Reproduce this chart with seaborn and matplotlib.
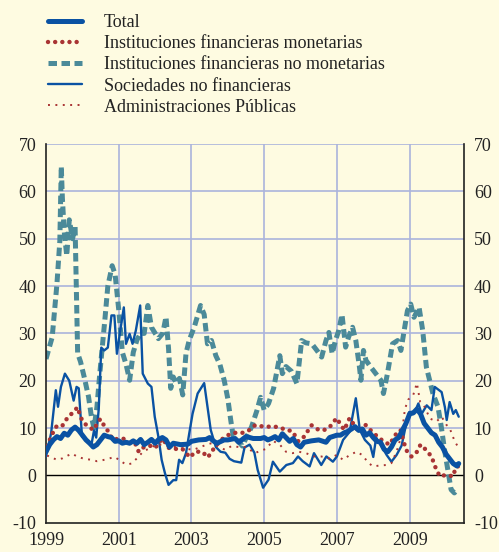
import numpy as np
import pandas as pd
import matplotlib
matplotlib.use("Agg")
import matplotlib.pyplot as plt
import seaborn as sns

# series (x in decimal years, y in %)
total_x = [1999.0, 1999.1, 1999.2, 1999.3, 1999.4, 1999.5, 1999.6, 1999.7, 1999.8, 1999.9,
           2000.0, 2000.1, 2000.2, 2000.3, 2000.4, 2000.5, 2000.6, 2000.7, 2000.8, 2000.9,
           2001.0, 2001.1, 2001.2, 2001.3, 2001.4, 2001.5, 2001.6, 2001.7, 2001.8, 2001.9,
           2002.0, 2002.1, 2002.2, 2002.3, 2002.4, 2002.5, 2002.7, 2002.9, 2003.0, 2003.2,
           2003.4, 2003.5, 2003.6, 2003.7, 2003.9, 2004.0, 2004.2, 2004.3, 2004.5, 2004.7,
           2004.9, 2005.0, 2005.1, 2005.2, 2005.3, 2005.4, 2005.5, 2005.6, 2005.7, 2005.8,
           2005.9, 2006.0, 2006.1, 2006.3, 2006.5, 2006.7, 2006.8, 2007.0, 2007.1, 2007.2,
           2007.3, 2007.4, 2007.5, 2007.6, 2007.7, 2007.8, 2007.9, 2008.0, 2008.1, 2008.2,
           2008.3, 2008.4, 2008.5, 2008.6, 2008.7, 2008.8, 2008.9, 2009.0, 2009.1, 2009.2,
           2009.3, 2009.4, 2009.5, 2009.6, 2009.7, 2009.8, 2009.9, 2010.0, 2010.1, 2010.2,
           2010.3, 2010.35]
total_y = [5.0, 6.5, 7.5, 8.2, 7.8, 8.9, 8.5, 9.6, 10.2, 9.5,
           8.5, 7.5, 6.8, 6.0, 6.5, 7.5, 8.5, 8.2, 8.0, 7.2,
           7.3, 6.8, 7.0, 6.8, 7.3, 6.8, 7.6, 6.5, 7.0, 7.6,
           6.8, 7.6, 8.0, 7.5, 6.0, 6.8, 6.5, 6.6, 7.2, 7.5,
           7.6, 8.0, 7.3, 6.8, 7.5, 7.5, 7.8, 7.0, 8.2, 7.8,
           7.8, 8.0, 7.5, 7.8, 8.2, 7.5, 8.8, 8.0, 7.2, 7.8,
           6.5, 6.0, 7.0, 7.3, 7.5, 7.0, 8.0, 8.5, 8.5, 9.0,
           9.3, 9.8, 10.3, 9.5, 9.8, 8.5, 9.0, 8.0, 7.2, 7.0,
           5.5, 5.0, 6.0, 7.5, 8.0, 9.5, 11.0, 13.0, 13.2, 14.0,
           13.0, 11.0, 10.0, 9.0, 8.5, 7.0, 6.0, 4.5, 3.5, 2.5,
           2.0, 2.5]

ifm_x = [1999.03, 1999.2, 1999.3, 1999.45, 1999.6, 1999.7, 1999.87, 1999.95, 2000.05, 2000.3,
         2000.49, 2000.6, 2000.72, 2000.83, 2001.12, 2001.3, 2001.45, 2001.55, 2001.68, 2001.85,
         2002.0, 2002.2, 2002.38, 2002.55, 2002.75, 2002.96, 2003.1, 2003.3, 2003.45, 2003.6,
         2003.7, 2003.85, 2004.0, 2004.2, 2004.4, 2004.6, 2004.75, 2004.9, 2005.1, 2005.3,
         2005.45, 2005.64, 2005.78, 2005.94, 2006.1, 2006.3, 2006.5, 2006.65, 2006.8, 2006.99,
         2007.1, 2007.2, 2007.35, 2007.6, 2007.77, 2007.92, 2008.1, 2008.28, 2008.45, 2008.6,
         2008.75, 2008.9, 2009.05, 2009.18, 2009.3, 2009.45, 2009.6, 2009.72, 2009.83, 2010.0,
         2010.2, 2010.3, 2010.37]
ifm_y = [6.2, 9.2, 10.5, 10.5, 12.3, 13.0, 14.4, 12.3, 11.0, 9.6,
         11.9, 10.5, 9.2, 7.6, 7.8, 6.8, 6.8, 5.0, 5.9, 6.3,
         5.8, 7.8, 5.8, 5.6, 5.6, 3.8, 5.0, 5.0, 3.8, 5.5,
         6.5, 7.7, 8.5, 9.0, 9.0, 9.6, 10.6, 10.4, 10.3, 10.3,
         10.0, 9.6, 9.3, 7.2, 8.2, 10.6, 9.6, 9.6, 10.2, 12.1,
         10.8, 9.6, 12.1, 9.2, 10.8, 9.6, 8.3, 7.2, 6.5, 8.5,
         9.6, 5.4, 4.0, 4.7, 6.5, 5.4, 4.0, 1.5, -0.2, 0.1,
         -0.2, 2.8, 0.6]

ifnm_x = [1999.0, 1999.17, 1999.3, 1999.38, 1999.42, 1999.45, 1999.5, 1999.57, 1999.64, 1999.73,
          1999.8, 1999.87, 1999.95, 2000.05, 2000.17, 2000.25, 2000.32, 2000.4, 2000.48, 2000.55,
          2000.62, 2000.7, 2000.82, 2000.9, 2001.0, 2001.1, 2001.2, 2001.3, 2001.4, 2001.5,
          2001.6, 2001.7, 2001.8, 2001.9, 2002.09, 2002.21, 2002.3, 2002.37, 2002.43, 2002.5,
          2002.58, 2002.67, 2002.76, 2002.85, 2002.94, 2003.08, 2003.25, 2003.35, 2003.44, 2003.55,
          2003.67, 2003.78, 2003.9, 2004.0, 2004.08, 2004.15, 2004.25, 2004.4, 2004.52, 2004.65,
          2004.8, 2004.9, 2005.0, 2005.12, 2005.26, 2005.43, 2005.5, 2005.6, 2005.75, 2005.9,
          2006.03, 2006.15, 2006.31, 2006.45, 2006.58, 2006.7, 2006.78, 2006.87, 2006.96, 2007.05,
          2007.14, 2007.24, 2007.32, 2007.43, 2007.52, 2007.62, 2007.66, 2007.73, 2007.8, 2007.93,
          2008.07, 2008.21, 2008.28, 2008.39, 2008.53, 2008.67, 2008.76, 2008.85, 2008.94, 2009.03,
          2009.12, 2009.26, 2009.36, 2009.46, 2009.55, 2009.64, 2009.78, 2009.87, 2009.96, 2010.05,
          2010.14, 2010.23, 2010.3]
ifnm_y = [24.6, 29.2, 40.4, 49.5, 65.3, 58.6, 51.6, 46.4, 54.0, 50.0,
          52.5, 25.8, 24.0, 20.8, 16.6, 12.3, 10.0, 14.4, 21.6, 27.3,
          33.0, 40.0, 44.3, 42.5, 35.0, 26.0, 23.5, 20.1, 26.0, 28.6,
          30.0, 30.0, 35.9, 31.3, 28.9, 30.0, 33.5, 26.8, 18.4, 20.8,
          19.5, 20.5, 17.0, 25.8, 28.6, 31.4, 35.9, 34.0, 27.8, 28.5,
          25.3, 23.5, 20.1, 16.2, 11.7, 8.2, 7.6, 6.2, 8.2, 10.2,
          13.7, 16.5, 13.8, 15.2, 18.4, 25.3, 21.5, 23.0, 22.0, 19.4,
          28.5, 28.0, 27.8, 26.4, 25.0, 28.5, 30.2, 25.7, 28.5, 30.6,
          34.0, 27.1, 29.2, 31.3, 28.5, 22.9, 20.1, 26.4, 24.3, 22.9,
          21.5, 20.1, 17.3, 21.5, 27.8, 28.5, 26.4, 30.6, 34.8, 36.2,
          33.4, 35.5, 30.6, 22.9, 20.1, 17.3, 14.5, 10.3, 5.4, 1.2,
          -3.0, -3.7, -3.0]

snf_x = [1999.0, 1999.14, 1999.27, 1999.33, 1999.41, 1999.52, 1999.64, 1999.76, 1999.84, 1999.9,
         1999.99, 2000.05, 2000.15, 2000.25, 2000.32, 2000.38, 2000.45, 2000.52, 2000.6, 2000.7,
         2000.8, 2000.88, 2000.95, 2001.03, 2001.14, 2001.2, 2001.3, 2001.38, 2001.47, 2001.59,
         2001.66, 2001.8, 2001.9, 2001.99, 2002.09, 2002.18, 2002.27, 2002.37, 2002.5, 2002.58,
         2002.66, 2002.75, 2002.85, 2002.94, 2003.03, 2003.17, 2003.35, 2003.45, 2003.53, 2003.67,
         2003.8, 2003.93, 2004.05, 2004.17, 2004.37, 2004.46, 2004.6, 2004.73, 2004.82, 2004.97,
         2005.12, 2005.24, 2005.43, 2005.61, 2005.79, 2005.93, 2006.06, 2006.25, 2006.37, 2006.57,
         2006.71, 2006.89, 2007.0, 2007.17, 2007.35, 2007.52, 2007.63, 2007.77, 2007.92, 2008.0,
         2008.08, 2008.24, 2008.37, 2008.5, 2008.64, 2008.78, 2008.87, 2008.99, 2009.14, 2009.24,
         2009.33, 2009.47, 2009.6, 2009.69, 2009.88, 2009.97, 2010.02, 2010.1, 2010.2, 2010.27,
         2010.35]
snf_y = [4.0, 8.9, 18.0, 14.5, 18.7, 21.5, 20.0, 15.8, 18.7, 18.4,
         8.2, 8.0, 7.0, 6.5, 9.5, 8.0, 14.0, 27.0, 26.4, 27.0,
         33.8, 33.8, 25.7, 30.0, 35.5, 27.8, 29.9, 27.8, 30.6, 35.9,
         21.5, 19.4, 18.7, 12.4, 8.2, 3.3, 0.5, -2.0, -1.0, -1.0,
         3.3, 2.6, 4.7, 8.9, 13.0, 17.3, 19.5, 14.0, 9.6, 6.0,
         5.0, 4.8, 3.5, 3.0, 2.7, 5.9, 6.5, 4.8, 1.2, -2.6,
         -0.9, 2.9, 0.8, 2.2, 2.6, 4.0, 3.0, 1.9, 4.7, 2.2,
         4.0, 2.9, 4.0, 7.5, 9.2, 16.3, 9.6, 7.5, 6.3, 3.9,
         8.0, 6.0, 4.3, 2.9, 4.3, 6.3, 9.6, 13.4, 13.4, 15.2,
         13.0, 14.8, 13.8, 18.7, 17.6, 14.4, 11.7, 15.5, 13.0, 13.8,
         12.4]

ap_x = [1999.03, 1999.3, 1999.45, 1999.6, 1999.72, 1999.85, 2000.05, 2000.25, 2000.4, 2000.55,
        2000.7, 2000.89, 2001.06, 2001.2, 2001.35, 2001.5, 2001.68, 2001.87, 2002.03, 2002.2,
        2002.38, 2002.55, 2002.7, 2002.88, 2003.05, 2003.25, 2003.42, 2003.55, 2003.75, 2003.93,
        2004.1, 2004.3, 2004.5, 2004.74, 2004.9, 2005.05, 2005.24, 2005.43, 2005.6, 2005.78,
        2005.95, 2006.15, 2006.37, 2006.57, 2006.8, 2006.99, 2007.17, 2007.35, 2007.54, 2007.7,
        2007.87, 2008.0, 2008.18, 2008.37, 2008.5, 2008.64, 2008.78, 2008.87, 2008.96, 2009.1,
        2009.2, 2009.29, 2009.38, 2009.56, 2009.74, 2009.88, 2010.01, 2010.1, 2010.24, 2010.35]
ap_y = [4.2, 3.3, 3.6, 4.2, 4.6, 4.0, 3.5, 3.3, 3.0, 3.2,
        3.5, 3.9, 3.0, 2.3, 2.5, 3.6, 5.1, 5.8, 6.5, 6.5,
        6.1, 6.0, 5.8, 5.6, 5.4, 6.0, 6.5, 6.8, 6.0, 5.4,
        6.2, 6.0, 6.0, 4.7, 5.2, 5.6, 7.3, 6.5, 5.0, 4.7,
        5.0, 4.7, 4.0, 4.0, 3.6, 4.3, 3.3, 4.3, 5.0, 4.3,
        2.6, 1.9, 2.1, 2.2, 2.6, 5.0, 8.5, 14.0, 16.0, 17.0,
        19.5, 15.5, 15.0, 12.0, 11.4, 12.4, 10.7, 10.0, 7.2, 5.8]

labels = ["Total",
          "Instituciones financieras monetarias",
          "Instituciones financieras no monetarias",
          "Sociedades no financieras",
          "Administraciones Públicas"]
year_ticks = [1999, 2001, 2003, 2005, 2007, 2009]
y_ticks = [-10, 0, 10, 20, 30, 40, 50, 60, 70]

bg = "#fefbe1"
grid_col = "#aab3dc"
blue = "#0a52a3"
teal = "#4b8a99"
red = "#a93434"
txt = "#222222"

sns.set_style("white")
plt.rcParams["font.family"] = ["Liberation Serif", "DejaVu Serif"]
plt.rcParams["axes.unicode_minus"] = False

fig = plt.figure(figsize=(4.99, 5.52), dpi=100, facecolor=bg)
ax = fig.add_axes([0.0922, 0.053, 0.838, 0.686])
ax.set_facecolor(bg)

for v in year_ticks[1:]:
    ax.axvline(v, color=grid_col, lw=1.2, zorder=0)
for v in y_ticks[2:]:
    ax.axhline(v, color=grid_col, lw=1.2, zorder=0)
ax.axhline(0, color="black", lw=1.0, zorder=1)

sns.lineplot(x=ifnm_x, y=ifnm_y, ax=ax, color=teal, lw=3.6, label=labels[2],
             linestyle=(0, (1.7, 0.9)), zorder=2)
sns.lineplot(x=snf_x, y=snf_y, ax=ax, color=blue, lw=1.7, label=labels[3], zorder=3)
sns.lineplot(x=ap_x, y=ap_y, ax=ax, color=red, lw=1.4, label=labels[4],
             linestyle=(0, (1.0, 2.8)), zorder=3)
sns.lineplot(x=ifm_x, y=ifm_y, ax=ax, color=red, lw=3.2, label=labels[1],
             linestyle=(0, (0.01, 1.6)), dash_capstyle="round", zorder=4)
sns.lineplot(x=total_x, y=total_y, ax=ax, color=blue, lw=3.6, label=labels[0], zorder=5)

ax.set_xlim(1999, 2010.5)
ax.set_ylim(-10, 70)
ax.set_xticks(year_ticks)
ax.set_xticklabels([str(y) for y in year_ticks])
ax.set_yticks(y_ticks)
ax.tick_params(axis="x", direction="out", length=5, width=1.2, color=txt,
               labelsize=13, pad=2, labelcolor=txt)
ax.tick_params(axis="y", length=0, labelsize=13, pad=7, labelcolor=txt,
               labelleft=True, labelright=True)
ax.set_xlabel("")
ax.set_ylabel("")
for side in ["left", "right", "bottom"]:
    ax.spines[side].set_color(txt)
    ax.spines[side].set_linewidth(1.2)
ax.spines["top"].set_visible(False)

handles, lbls = ax.get_legend_handles_labels()
order = [lbls.index(l) for l in labels]
ax.get_legend().remove()
fig.legend([handles[i] for i in order], [lbls[i] for i in order],
           loc="upper left", bbox_to_anchor=(0.064, 1.004), frameon=False,
           fontsize=13, handlelength=1.9, handletextpad=1.2, labelspacing=0.23,
           labelcolor=txt)

fig.savefig("out.png", dpi=100, facecolor=bg)
